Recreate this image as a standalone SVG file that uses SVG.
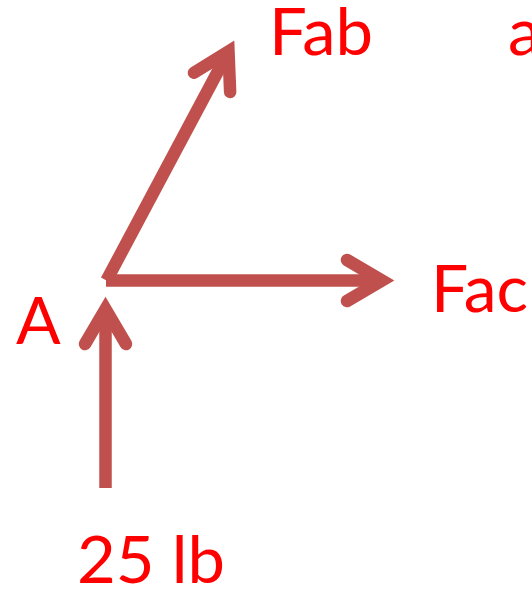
<svg xmlns="http://www.w3.org/2000/svg" width="532" height="590" viewBox="0 0 532 590">
  <style>
    .lbl { font-family: Lato, "Liberation Sans", sans-serif; font-size: 66px; fill: #FF0000; }
    .shaft { fill: none; stroke: #C0504D; stroke-width: 12.5; stroke-linecap: butt; }
  </style>
  <defs>
    <marker id="head" markerUnits="userSpaceOnUse" viewBox="-50 -30 60 60" refX="0" refY="0" markerWidth="60" markerHeight="60" orient="auto" overflow="visible">
      <path d="M -35,-20.5 L 0,0 L -35,20.5" fill="none" stroke="#C0504D" stroke-width="12.5" stroke-linecap="round" stroke-linejoin="miter" stroke-miterlimit="10"/>
    </marker>
  </defs>
  <g id="connectors">
    <line id="Fab-arrow" class="shaft" x1="106.5" y1="280.5" x2="228.5" y2="51.5" marker-end="url(#head)"/>
    <line id="Fac-arrow" class="shaft" x1="106" y1="280.5" x2="382" y2="280.5" marker-end="url(#head)"/>
    <line id="load-arrow" class="shaft" x1="105.5" y1="488" x2="105.5" y2="309" marker-end="url(#head)"/>
  </g>
  <g id="node-Fab"><text class="lbl" x="269" y="55" textLength="104" lengthAdjust="spacingAndGlyphs">Fab</text></g>
  <g id="node-a"><text class="lbl" x="508" y="55">a</text></g>
  <g id="node-Fac"><text class="lbl" x="431" y="312" textLength="97" lengthAdjust="spacingAndGlyphs">Fac</text></g>
  <g id="node-A"><text class="lbl" x="16" y="344">A</text></g>
  <g id="node-load"><text class="lbl" x="77" y="583" textLength="148" lengthAdjust="spacingAndGlyphs">25 lb</text></g>
</svg>
